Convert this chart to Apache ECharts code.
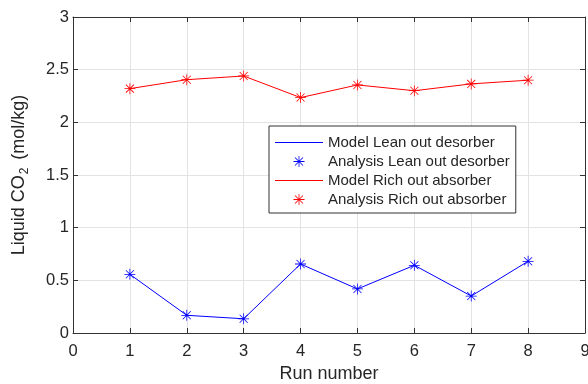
<!DOCTYPE html>
<html>
<head>
<meta charset="utf-8">
<script src="https://cdn.jsdelivr.net/npm/echarts@6/dist/echarts.min.js"></script>
<style>html,body{margin:0;padding:0;background:#fff}#c{width:588px;height:384px}</style>
</head>
<body>
<div id="c"></div>
<script>
const runs = [1, 2, 3, 4, 5, 6, 7, 8];
const leanModel = [0.557, 0.168, 0.135, 0.655, 0.418, 0.643, 0.351, 0.681];
const leanAnalysis = [0.557, 0.168, 0.135, 0.655, 0.418, 0.643, 0.351, 0.681];
const richModel = [2.32, 2.405, 2.44, 2.235, 2.355, 2.30, 2.365, 2.40];
const richAnalysis = [2.32, 2.405, 2.44, 2.235, 2.355, 2.30, 2.365, 2.40];
const seriesNames = ['Model Lean out desorber', 'Analysis Lean out desorber', 'Model Rich out absorber', 'Analysis Rich out absorber'];
const xTicks = [0, 9, 1];
const yTicks = [0, 3, 0.5];

const star = 'path://M0,9.3 L20,9.3 L20,10.7 L0,10.7 Z M9.3,0 L10.7,0 L10.7,20 L9.3,20 Z M2.2,3.2 L3.2,2.2 L17.8,16.8 L16.8,17.8 Z M16.8,2.2 L17.8,3.2 L3.2,17.8 L2.2,16.8 Z';
const lineIcon = 'path://M0,0 L48,0 L48,1 L0,1 Z';
const pair = (xs, ys) => xs.map((x, i) => [x, ys[i]]);
const axisCol = '#333333';
const txtCol = '#262626';

const chart = echarts.init(document.getElementById('c'));
chart.setOption({
  animation: false,
  backgroundColor: '#fff',
  textStyle: { fontFamily: 'Liberation Sans, Arial, sans-serif' },
  grid: { left: 73, right: 3, top: 17, bottom: 51, containLabel: false, outerBoundsMode: 'none' },
  xAxis: [{
    type: 'value', min: xTicks[0], max: xTicks[1], interval: xTicks[2],
    name: 'Run number', nameLocation: 'middle', nameGap: 32,
    nameTextStyle: { fontSize: 18, color: txtCol },
    axisLine: { show: true, onZero: false, lineStyle: { color: axisCol, width: 1 } },
    axisTick: { show: true, inside: true, length: 5, lineStyle: { color: axisCol } },
    axisLabel: { fontSize: 16.5, color: txtCol, margin: 10 },
    splitLine: { show: true, lineStyle: { color: '#e3e3e3', width: 1 } }
  }, {
    type: 'value', position: 'top', min: xTicks[0], max: xTicks[1], interval: xTicks[2],
    axisLine: { show: true, onZero: false, lineStyle: { color: axisCol, width: 1 } },
    axisTick: { show: true, inside: true, length: 5, lineStyle: { color: axisCol } },
    axisLabel: { show: false }, splitLine: { show: false }
  }],
  yAxis: [{
    type: 'value', min: yTicks[0], max: yTicks[1], interval: yTicks[2],
    name: '{a|Liquid CO}{s|2}{a| (mol/kg)}', nameLocation: 'middle', nameGap: 42, nameRotate: 90,
    nameTextStyle: {
      color: txtCol,
      rich: {
        a: { fontSize: 18, color: txtCol, fontFamily: 'Liberation Sans, Arial, sans-serif' },
        s: { fontSize: 12, color: txtCol, fontFamily: 'Liberation Sans, Arial, sans-serif', padding: [12, 3, 0, 1] }
      }
    },
    axisLine: { show: true, onZero: false, lineStyle: { color: axisCol, width: 1 } },
    axisTick: { show: true, inside: true, length: 5, lineStyle: { color: axisCol } },
    axisLabel: { fontSize: 16.5, color: txtCol, margin: 4 },
    splitLine: { show: true, lineStyle: { color: '#e3e3e3', width: 1 } }
  }, {
    type: 'value', position: 'right', min: yTicks[0], max: yTicks[1], interval: yTicks[2],
    axisLine: { show: true, onZero: false, lineStyle: { color: axisCol, width: 1 } },
    axisTick: { show: true, inside: true, length: 5, lineStyle: { color: axisCol } },
    axisLabel: { show: false }, splitLine: { show: false }
  }],
  legend: {
    orient: 'vertical', left: 269, top: 126,
    backgroundColor: '#fff', borderColor: axisCol, borderWidth: 1,
    padding: [9, 6, 6, 6], itemGap: 4, itemWidth: 48, itemHeight: 11,
    textStyle: { fontSize: 15, color: txtCol },
    data: [
      { name: seriesNames[0], icon: lineIcon },
      { name: seriesNames[1], icon: star },
      { name: seriesNames[2], icon: lineIcon },
      { name: seriesNames[3], icon: star }
    ]
  },
  series: [
    { name: seriesNames[0], type: 'line', data: pair(runs, leanModel), showSymbol: false,
      lineStyle: { color: '#0000ff', width: 1 }, itemStyle: { color: '#0000ff' } },
    { name: seriesNames[1], type: 'scatter', data: pair(runs, leanAnalysis), symbol: star, symbolSize: 11,
      itemStyle: { color: '#0000ff', opacity: 1 } },
    { name: seriesNames[2], type: 'line', data: pair(runs, richModel), showSymbol: false,
      lineStyle: { color: '#ff0000', width: 1 }, itemStyle: { color: '#ff0000' } },
    { name: seriesNames[3], type: 'scatter', data: pair(runs, richAnalysis), symbol: star, symbolSize: 11,
      itemStyle: { color: '#ff0000', opacity: 1 } }
  ]
});
</script>
</body>
</html>
